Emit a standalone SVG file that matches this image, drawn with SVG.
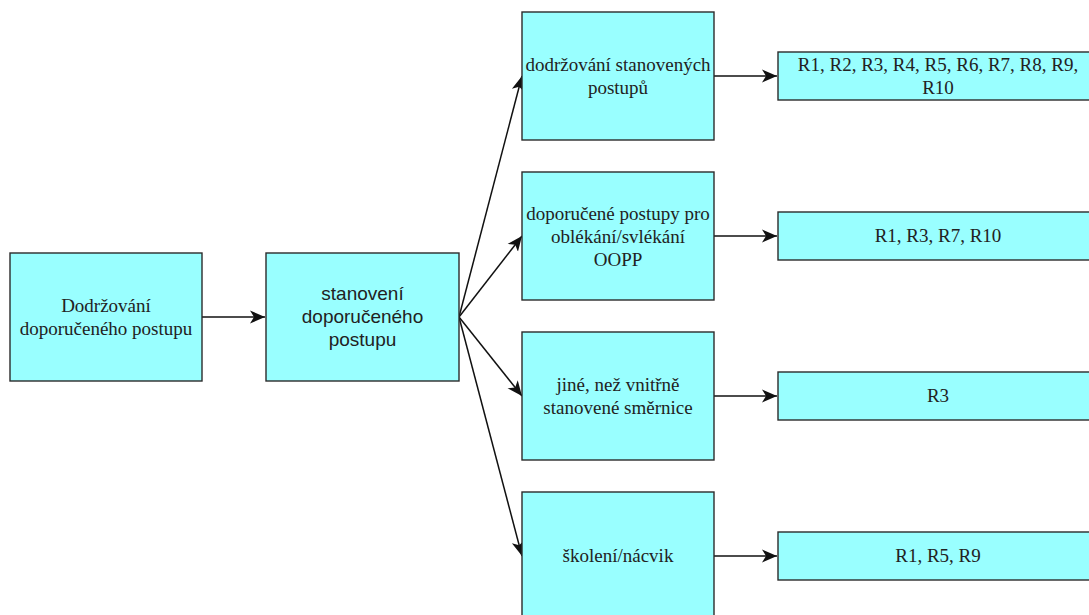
<svg xmlns="http://www.w3.org/2000/svg" width="1089" height="615" viewBox="0 0 1089 615">
<style>
.box{fill:#99FFFF;stroke:#2b2b2b;stroke-width:1.4}
.t{font-family:"Liberation Serif","Times New Roman",serif;font-size:19px;fill:#222;text-anchor:middle}
.s{font-family:"Liberation Sans",Arial,sans-serif;font-size:19px;fill:#222;text-anchor:middle}
.c{fill:none;stroke:#111;stroke-width:1.5}
</style>
<defs>
<marker id="arr" markerUnits="userSpaceOnUse" markerWidth="16" markerHeight="14" viewBox="0 0 16 14" refX="15" refY="7" orient="auto">
<path d="M0,0.5 L15,7 L0,13.5 L4,7 Z" fill="#111"/>
</marker>
</defs>
<rect width="1089" height="615" fill="#fff"/>
<g id="connectors">
<line class="c" x1="202" y1="317" x2="265" y2="317" marker-end="url(#arr)"/>
<line class="c" x1="459" y1="317" x2="522" y2="76" marker-end="url(#arr)"/>
<line class="c" x1="459" y1="317" x2="522" y2="236" marker-end="url(#arr)"/>
<line class="c" x1="459" y1="317" x2="522" y2="396" marker-end="url(#arr)"/>
<line class="c" x1="459" y1="317" x2="522" y2="556" marker-end="url(#arr)"/>
<line class="c" x1="714" y1="76" x2="777" y2="76" marker-end="url(#arr)"/>
<line class="c" x1="714" y1="236" x2="777" y2="236" marker-end="url(#arr)"/>
<line class="c" x1="714" y1="396" x2="777" y2="396" marker-end="url(#arr)"/>
<line class="c" x1="714" y1="556" x2="777" y2="556" marker-end="url(#arr)"/>
</g>
<g id="nodeA">
<rect class="box" x="10" y="253" width="192" height="128"/>
<text class="t" x="106" y="312">Dodržování</text>
<text class="t" x="106" y="335">doporučeného postupu</text>
</g>
<g id="nodeB">
<rect class="box" x="266" y="253" width="193" height="128"/>
<text class="s" x="362.5" y="300">stanovení</text>
<text class="s" x="362.5" y="323">doporučeného</text>
<text class="s" x="362.5" y="346">postupu</text>
</g>
<g id="nodeC1">
<rect class="box" x="522" y="12" width="192" height="128"/>
<text class="t" x="618" y="71">dodržování stanovených</text>
<text class="t" x="618" y="94">postupů</text>
</g>
<g id="nodeC2">
<rect class="box" x="522" y="172" width="192" height="128"/>
<text class="t" x="618" y="220">doporučené postupy pro</text>
<text class="t" x="618" y="243">oblékání/svlékání</text>
<text class="t" x="618" y="266">OOPP</text>
</g>
<g id="nodeC3">
<rect class="box" x="522" y="332" width="192" height="128"/>
<text class="t" x="618" y="391">jiné, než vnitřně</text>
<text class="t" x="618" y="414">stanovené směrnice</text>
</g>
<g id="nodeC4">
<rect class="box" x="522" y="492" width="192" height="128"/>
<text class="t" x="618" y="562">školení/nácvik</text>
</g>
<g id="nodeR1">
<rect class="box" x="778" y="52" width="320" height="48"/>
<text class="t" x="938" y="71">R1, R2, R3, R4, R5, R6, R7, R8, R9,</text>
<text class="t" x="938" y="94">R10</text>
</g>
<g id="nodeR2">
<rect class="box" x="778" y="212" width="320" height="48"/>
<text class="t" x="938" y="242">R1, R3, R7, R10</text>
</g>
<g id="nodeR3">
<rect class="box" x="778" y="372" width="320" height="48"/>
<text class="t" x="938" y="402">R3</text>
</g>
<g id="nodeR4">
<rect class="box" x="778" y="532" width="320" height="48"/>
<text class="t" x="938" y="562">R1, R5, R9</text>
</g>
</svg>
